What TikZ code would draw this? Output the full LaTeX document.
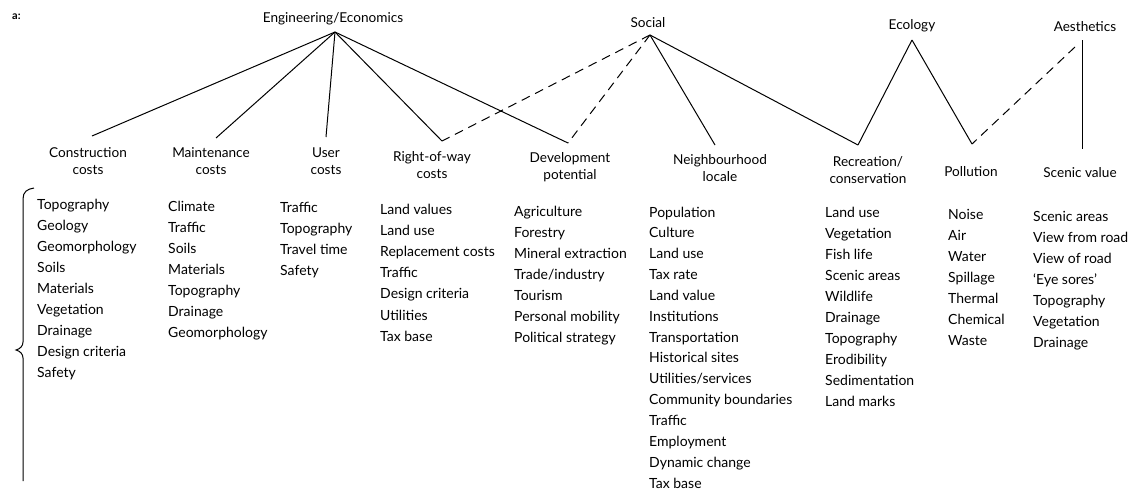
\documentclass[tikz,border=0pt]{standalone}
\usepackage{fontspec}
\setmainfont{Lato}
\begin{document}
\begin{tikzpicture}[x=1pt,y=-1pt,
  lbl/.style={inner sep=0pt,font=\fontsize{14}{16}\selectfont},
  item/.style={lbl,anchor=base west},
  head/.style={lbl,anchor=base,font=\fontsize{13.6}{16}\selectfont},
  conn/.style={line width=1pt,black},
  dconn/.style={conn,dash pattern=on 9pt off 6pt}]
\useasboundingbox (0,0) rectangle (1146,490);
\node[lbl,anchor=base west,font=\bfseries\fontsize{11}{13}\selectfont] (tag) at (12,19) {a:};
% top labels
\node[head] (eng) at (333,22) {Engineering/Economics};
\node[head] (soc) at (648,27) {Social};
\node[head] (eco) at (912,29) {Ecology};
\node[head] (aes) at (1085,31) {Aesthetics};
\coordinate (engA) at (335,32);
\coordinate (socA) at (650,35);
\coordinate (ecoA) at (912,40);
\coordinate (aesA) at (1082,40);
\coordinate (aesD) at (1075,47);
% headers
\node[head] (h1a) at (88,157) {Construction};
\node[head] (h1b) at (88,174) {costs};
\node[head] (h2a) at (211,157) {Maintenance};
\node[head] (h2b) at (211,174) {costs};
\node[head] (h3a) at (326,157) {User};
\node[head] (h3b) at (326,174) {costs};
\node[head] (h4a) at (432,161) {Right-of-way};
\node[head] (h4b) at (432,178) {costs};
\node[head] (h5a) at (570,162) {Development};
\node[head] (h5b) at (570,179) {potential};
\node[head] (h6a) at (720,164) {Neighbourhood};
\node[head] (h6b) at (720,181) {locale};
\node[head] (h7a) at (868,166) {Recreation/};
\node[head] (h7b) at (868,183) {conservation};
\node[head] (h8) at (971,176) {Pollution};
\node[head] (h9) at (1080,177) {Scenic value};
\coordinate (cc) at (92,136);
\coordinate (mc) at (216,138);
\coordinate (uc) at (326,137);
\coordinate (rw) at (442,141);
\coordinate (dp) at (568,143);
\coordinate (nl) at (715,145);
\coordinate (rc) at (858,145);
\coordinate (po) at (972,144);
\coordinate (sv) at (1082,149);
% connectors
\draw[conn] (engA) -- (cc);
\draw[conn] (engA) -- (mc);
\draw[conn] (engA) -- (uc);
\draw[conn] (engA) -- (rw);
\draw[conn] (engA) -- (dp);
\draw[dconn] (socA) -- (rw);
\draw[dconn] (socA) -- (dp);
\draw[conn] (socA) -- (nl);
\draw[conn] (socA) -- (rc);
\draw[conn] (ecoA) -- (rc);
\draw[conn] (ecoA) -- (po);
\draw[dconn] (aesD) -- (po);
\draw[conn] (aesA) -- (sv);
% lists
\foreach \t [count=\i] in {Topography,Geology,Geomorphology,Soils,Materials,Vegetation,Drainage,Design criteria,Safety}
  \node[item] (a\i) at (37,{209+21*(\i-1)}) {\t};
\foreach \t [count=\i] in {Climate,Traffic,Soils,Materials,Topography,Drainage,Geomorphology}
  \node[item] (b\i) at (168,{211+21*(\i-1)}) {\t};
\foreach \t [count=\i] in {Traffic,Topography,Travel time,Safety}
  \node[item] (c\i) at (280,{212+21*(\i-1)}) {\t};
\foreach \t [count=\i] in {Land values,Land use,Replacement costs,Traffic,Design criteria,Utilities,Tax base}
  \node[item] (d\i) at (380,{214+21.2*(\i-1)}) {\t};
\foreach \t [count=\i] in {Agriculture,Forestry,Mineral extraction,Trade/industry,Tourism,Personal mobility,Political strategy}
  \node[item] (e\i) at (514,{216+21*(\i-1)}) {\t};
\foreach \t [count=\i] in {Population,Culture,Land use,Tax rate,Land value,Institutions,Transportation,Historical sites,Utilities/services,Community boundaries,Traffic,Employment,Dynamic change,Tax base}
  \node[item] (f\i) at (649,{217+20.85*(\i-1)}) {\t};
\foreach \t [count=\i] in {Land use,Vegetation,Fish life,Scenic areas,Wildlife,Drainage,Topography,Erodibility,Sedimentation,Land marks}
  \node[item] (g\i) at (825,{217+21.1*(\i-1)}) {\t};
\foreach \t [count=\i] in {Noise,Air,Water,Spillage,Thermal,Chemical,Waste}
  \node[item] (k\i) at (948,{219+21*(\i-1)}) {\t};
\foreach \t [count=\i] in {Scenic areas,View from road,View of road,`Eye sores',Topography,Vegetation,Drainage}
  \node[item] (m\i) at (1033,{221+21*(\i-1)}) {\t};
% brace
\draw[line width=1pt] (34,188) .. controls (27,189) and (23,192) .. (23,199)
  -- (23,342) .. controls (23,346) and (20,349) .. (16,350)
  .. controls (20,351) and (23,354) .. (23,358) -- (23,481);
\end{tikzpicture}
\end{document}
